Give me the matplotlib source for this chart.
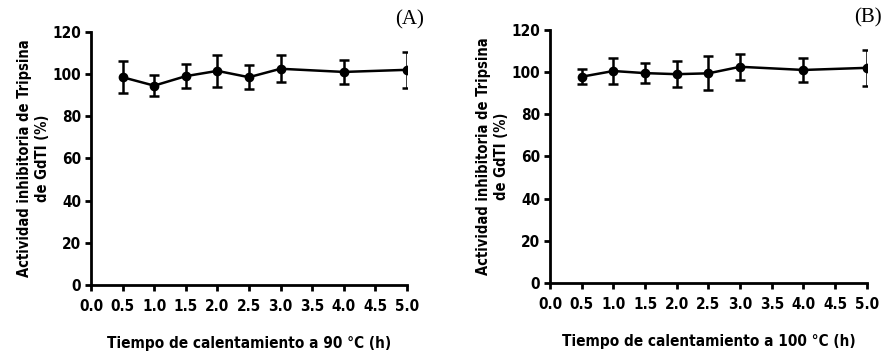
import matplotlib
matplotlib.use("Agg")
import matplotlib.pyplot as plt

# Data
time_h = [0.5, 1.0, 1.5, 2.0, 2.5, 3.0, 4.0, 5.0]
act_90 = [98.5, 94.5, 99.0, 101.5, 98.5, 102.5, 101.0, 102.0]
err_90 = [7.5, 5.0, 5.7, 7.5, 5.8, 6.3, 5.5, 8.5]
act_100 = [97.8, 100.5, 99.5, 99.0, 99.4, 102.5, 101.0, 102.0]
err_100 = [3.5, 6.3, 4.6, 6.3, 8.0, 6.3, 5.5, 8.5]
xticks = [0.0, 0.5, 1.0, 1.5, 2.0, 2.5, 3.0, 3.5, 4.0, 4.5, 5.0]
yticks = [0, 20, 40, 60, 80, 100, 120]
xlabels = ["Tiempo de calentamiento a 90 °C (h)", "Tiempo de calentamiento a 100 °C (h)"]
ylabel = "Actividad inhibitoria de Tripsina\nde GdTI (%)"
panels = ["(A)", "(B)"]

fam = "DejaVu Sans"

fig = plt.figure(figsize=(8.85, 3.54), dpi=100)
rects = [[0.1028, 0.195, 0.357, 0.715], [0.6215, 0.2006, 0.358, 0.715]]
datasets = [(act_90, err_90), (act_100, err_100)]

for i, (rect, (y, e)) in enumerate(zip(rects, datasets)):
    ax = fig.add_axes(rect)
    ax.errorbar(time_h, y, yerr=e, color="black", marker="o", markersize=6,
                linewidth=1.8, elinewidth=1.8, capsize=3.5, capthick=1.8)
    ax.set_xlim(0, 5.0)
    ax.set_ylim(0, 120)
    ax.set_xticks(xticks)
    ax.set_xticklabels([f"{t:.1f}" for t in xticks])
    ax.set_yticks(yticks)
    for s in ["top", "right"]:
        ax.spines[s].set_visible(False)
    for s in ["left", "bottom"]:
        ax.spines[s].set_linewidth(2)
    ax.tick_params(direction="out", length=4, width=2, labelsize=11, pad=3)
    ax.tick_params(axis="x", pad=6)
    for lab in ax.get_xticklabels() + ax.get_yticklabels():
        lab.set_fontweight("bold")
        lab.set_family(fam)
        lab.set_fontstretch("condensed")
    ax.set_xlabel(xlabels[i], fontsize=11, fontweight="bold", family=fam,
                  fontstretch="condensed", labelpad=16)
    ax.set_ylabel(ylabel, fontsize=10.5, fontweight="bold", family=fam,
                  fontstretch="condensed", labelpad=2, linespacing=1.2)
    ax.patch.set_alpha(0)

fig.text(410 / 885, 1 - 20 / 354, panels[0], fontsize=15, family="Liberation Serif",
         ha="center", va="center")
fig.text(868 / 885, 1 - 18 / 354, panels[1], fontsize=15, family="Liberation Serif",
         ha="center", va="center")

fig.savefig("out.png", dpi=100)
